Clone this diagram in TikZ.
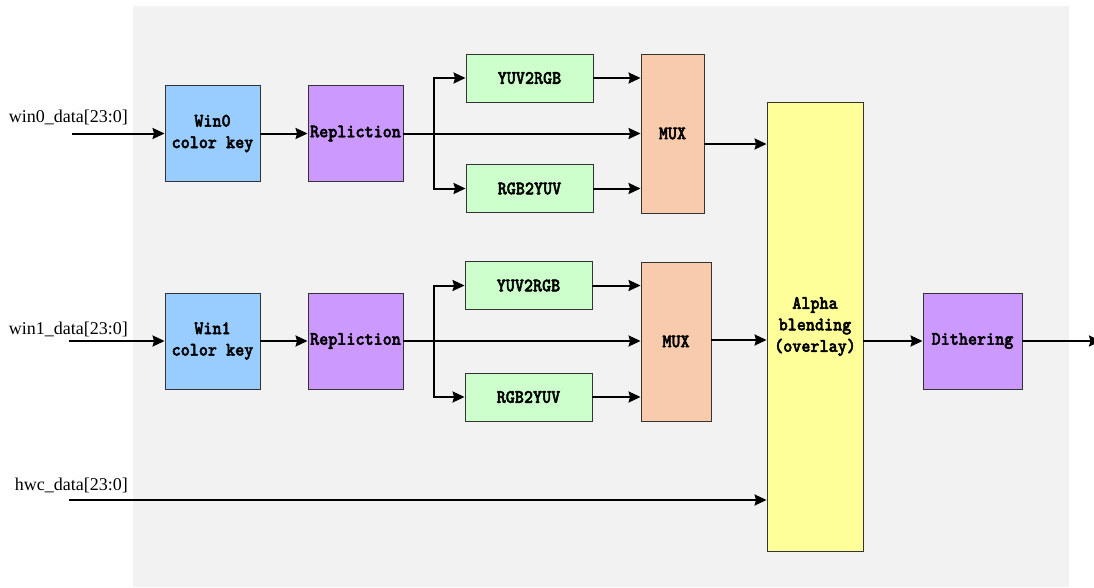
\documentclass[tikz,border=0pt]{standalone}
\usepackage{fontspec}
\usetikzlibrary{arrows.meta}
\setmainfont{Liberation Serif}
\newfontfamily\blockfont[FakeBold=2.2, FakeStretch=0.91]{lmmonolt10-bold.otf}
\definecolor{bgfill}{HTML}{F2F2F2}
\definecolor{keyblue}{HTML}{99CCFF}
\definecolor{replpurple}{HTML}{CC99FF}
\definecolor{convgreen}{HTML}{CCFFCC}
\definecolor{muxorange}{HTML}{F8CBAD}
\definecolor{blendyellow}{HTML}{FFFF99}
\definecolor{edge}{HTML}{333333}
\tikzset{
  block/.style={draw=edge, line width=0.9pt, inner sep=0pt, align=center,
    font=\blockfont\fontsize{19}{21.5}\selectfont},
  keybox/.style={block, fill=keyblue, minimum width=95pt, minimum height=96pt},
  replbox/.style={block, fill=replpurple, minimum width=95pt, minimum height=96pt},
  convbox/.style={block, fill=convgreen, minimum width=127pt, minimum height=48pt},
  muxbox/.style={block, fill=muxorange, minimum height=159pt},
  blendbox/.style={block, fill=blendyellow, minimum width=96pt, minimum height=449pt},
  dithbox/.style={block, fill=replpurple, minimum width=99pt, minimum height=96pt},
  sig/.style={font=\fontsize{18}{21}\selectfont, anchor=east, inner sep=0pt},
  wire/.style={line width=2pt},
  arr/.style={wire, -{Stealth[length=12pt, width=11pt, inset=1.5pt]}}
}
\begin{document}
\begin{tikzpicture}[x=1pt, y=-1pt]
  \useasboundingbox (0,0) rectangle (1094,587);
  % grey panel behind the pipeline
  \fill[bgfill] (133,6) rectangle (1069,587);

  % ---- window 0 path ----
  \node[keybox]  (win0) at (212.5,133.5) {Win0\\color key};
  \node[replbox] (rep0) at (355.5,133.5) {Repliction};
  \node[convbox] (yuv0) at (529.5,78) {YUV2RGB};
  \node[convbox] (rgb0) at (529.5,188.5) {RGB2YUV};
  \node[muxbox, minimum width=63pt] (mux0) at (672.5,133.5) {MUX};

  % ---- window 1 path ----
  \node[keybox]  (win1) at (212.5,341) {Win1\\color key};
  \node[replbox] (rep1) at (355.5,341) {Repliction};
  \node[convbox] (yuv1) at (528.5,285.5) {YUV2RGB};
  \node[convbox] (rgb1) at (528.5,397) {RGB2YUV};
  \node[muxbox, minimum width=70pt] (mux1) at (676,341.5) {MUX};

  % ---- blending and output ----
  \node[blendbox] (alpha) at (815,326.5) {Alpha\\blending\\(overlay)};
  \node[dithbox]  (dith)  at (972.5,341) {Dithering};

  % ---- input signals ----
  \node[sig] (l0) at (128,117) {win0\_data[23:0]};
  \node[sig] (l1) at (128,329) {win1\_data[23:0]};
  \node[sig] (l2) at (128,485) {hwc\_data[23:0]};
  \coordinate (in0) at (72,133.5);
  \coordinate (in1) at (69,341);
  \coordinate (in2) at (69,500);
  \coordinate (out) at (1101,341);

  % branch points in front of the converters
  \coordinate (br0) at (434,133.5);
  \coordinate (br1) at (434,341);

  % ---- connectors, window 0 ----
  \draw[arr] (in0) -- (win0.west);
  \draw[arr] (win0.east) -- (rep0.west);
  \draw[arr] (rep0.east) -- (rep0.east -| mux0.west);
  \draw[arr] (br0) |- (yuv0.west);
  \draw[arr] (br0) |- (rgb0.west);
  \draw[arr] (yuv0.east) -- (yuv0.east -| mux0.west);
  \draw[arr] (rgb0.east) -- (rgb0.east -| mux0.west);
  \draw[arr] (mux0.east |- 0,144) -- (alpha.west |- 0,144);

  % ---- connectors, window 1 ----
  \draw[arr] (in1) -- (win1.west);
  \draw[arr] (win1.east) -- (rep1.west);
  \draw[arr] (rep1.east) -- (rep1.east -| mux1.west);
  \draw[arr] (br1) |- (yuv1.west);
  \draw[arr] (br1) |- (rgb1.west);
  \draw[arr] (yuv1.east) -- (yuv1.east -| mux1.west);
  \draw[arr] (rgb1.east) -- (rgb1.east -| mux1.west);
  \draw[arr] (mux1.east |- 0,340) -- (alpha.west |- 0,340);

  % ---- hardware cursor and output ----
  \draw[arr] (in2) -- (in2 -| alpha.west);
  \draw[arr] (alpha.east |- dith.west) -- (dith.west);
  \draw[arr] (dith.east) -- (out);
\end{tikzpicture}
\end{document}
